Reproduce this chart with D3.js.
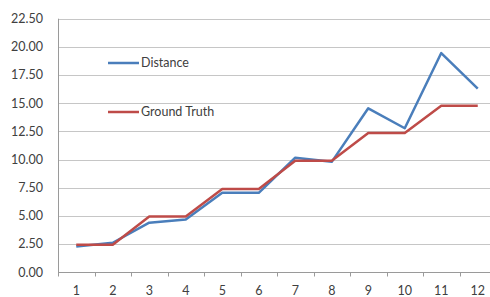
<!DOCTYPE html>
<html>
<head>
<meta charset="utf-8">
<script src="https://cdn.jsdelivr.net/npm/d3@7"></script>
<style>
  body { margin: 0; background: #fff; }
  svg { display: block; font-family: "Lato", "Liberation Sans", sans-serif; }
</style>
</head>
<body>
<svg id="chart" width="490" height="297"></svg>
<script>
// chart data
const categories = ["1", "2", "3", "4", "5", "6", "7", "8", "9", "10", "11", "12"];
const distance = [2.28, 2.62, 4.40, 4.68, 7.05, 7.05, 10.17, 9.80, 14.55, 12.78, 19.45, 16.30];
const groundTruth = [2.45, 2.45, 4.95, 4.95, 7.40, 7.40, 9.90, 9.90, 12.35, 12.35, 14.78, 14.78];
const yTicks = [0, 2.5, 5, 7.5, 10, 12.5, 15, 17.5, 20, 22.5];
const seriesNames = ["Distance", "Ground Truth"];
const seriesColors = ["#4a7ebb", "#be4b48"];

const svg = d3.select("#chart");
const margin = { top: 18.7, left: 58 };
const plotBottom = 272.3;
const bandW = 36.5;

const x = d3.scaleBand()
    .domain(categories)
    .range([margin.left, margin.left + bandW * categories.length]);

const y = d3.scaleLinear()
    .domain([0, 22.5])
    .range([plotBottom, margin.top]);

// gridlines
svg.append("g")
    .selectAll("line")
    .data(yTicks.slice(1))
    .join("line")
    .attr("x1", margin.left)
    .attr("x2", x.range()[1])
    .attr("y1", d => Math.round(y(d)) + 0.5)
    .attr("y2", d => Math.round(y(d)) + 0.5)
    .attr("stroke", "#c6c6c6")
    .attr("stroke-width", 1);

// y labels
svg.append("g")
    .selectAll("text")
    .data(yTicks)
    .join("text")
    .attr("x", 43)
    .attr("y", d => y(d))
    .attr("dy", "0.35em")
    .attr("text-anchor", "end")
    .attr("font-size", "12.5px")
    .attr("fill", "#404040")
    .text(d => d.toFixed(2));

// y axis line
svg.append("line")
    .attr("x1", Math.round(margin.left) + 0.5)
    .attr("x2", Math.round(margin.left) + 0.5)
    .attr("y1", margin.top)
    .attr("y2", plotBottom)
    .attr("stroke", "#9a9a9a");

// x axis line + ticks
const xAxisY = Math.round(plotBottom) + 0.5;
svg.append("line")
    .attr("x1", margin.left)
    .attr("x2", x.range()[1])
    .attr("y1", xAxisY)
    .attr("y2", xAxisY)
    .attr("stroke", "#9a9a9a");

svg.append("g")
    .selectAll("line")
    .data(categories)
    .join("line")
    .attr("x1", d => Math.round(x(d)) + 0.5)
    .attr("x2", d => Math.round(x(d)) + 0.5)
    .attr("y1", xAxisY)
    .attr("y2", xAxisY + 4)
    .attr("stroke", "#9a9a9a");

svg.append("g")
    .selectAll("text")
    .data(categories)
    .join("text")
    .attr("x", d => x(d) + x.bandwidth() / 2)
    .attr("y", 291)
    .attr("dy", "0.35em")
    .attr("text-anchor", "middle")
    .attr("font-size", "12.5px")
    .attr("fill", "#404040")
    .text(d => d);

// lines
const line = d3.line()
    .x((d, i) => x(categories[i]) + x.bandwidth() / 2)
    .y(d => y(d));

[distance, groundTruth].forEach((vals, k) => {
    svg.append("path")
        .datum(vals)
        .attr("d", line)
        .attr("fill", "none")
        .attr("stroke", seriesColors[k])
        .attr("stroke-width", 2.5)
        .attr("stroke-linejoin", "round");
});

// legend
const legendY = [63, 112];
seriesNames.forEach((name, k) => {
    svg.append("line")
        .attr("x1", 108)
        .attr("x2", 139)
        .attr("y1", legendY[k])
        .attr("y2", legendY[k])
        .attr("stroke", seriesColors[k])
        .attr("stroke-width", 2.5);
    svg.append("text")
        .attr("x", 141)
        .attr("y", legendY[k])
        .attr("dy", "0.35em")
        .attr("font-size", "12.5px")
        .attr("fill", "#404040")
        .text(name);
});
</script>
</body>
</html>
